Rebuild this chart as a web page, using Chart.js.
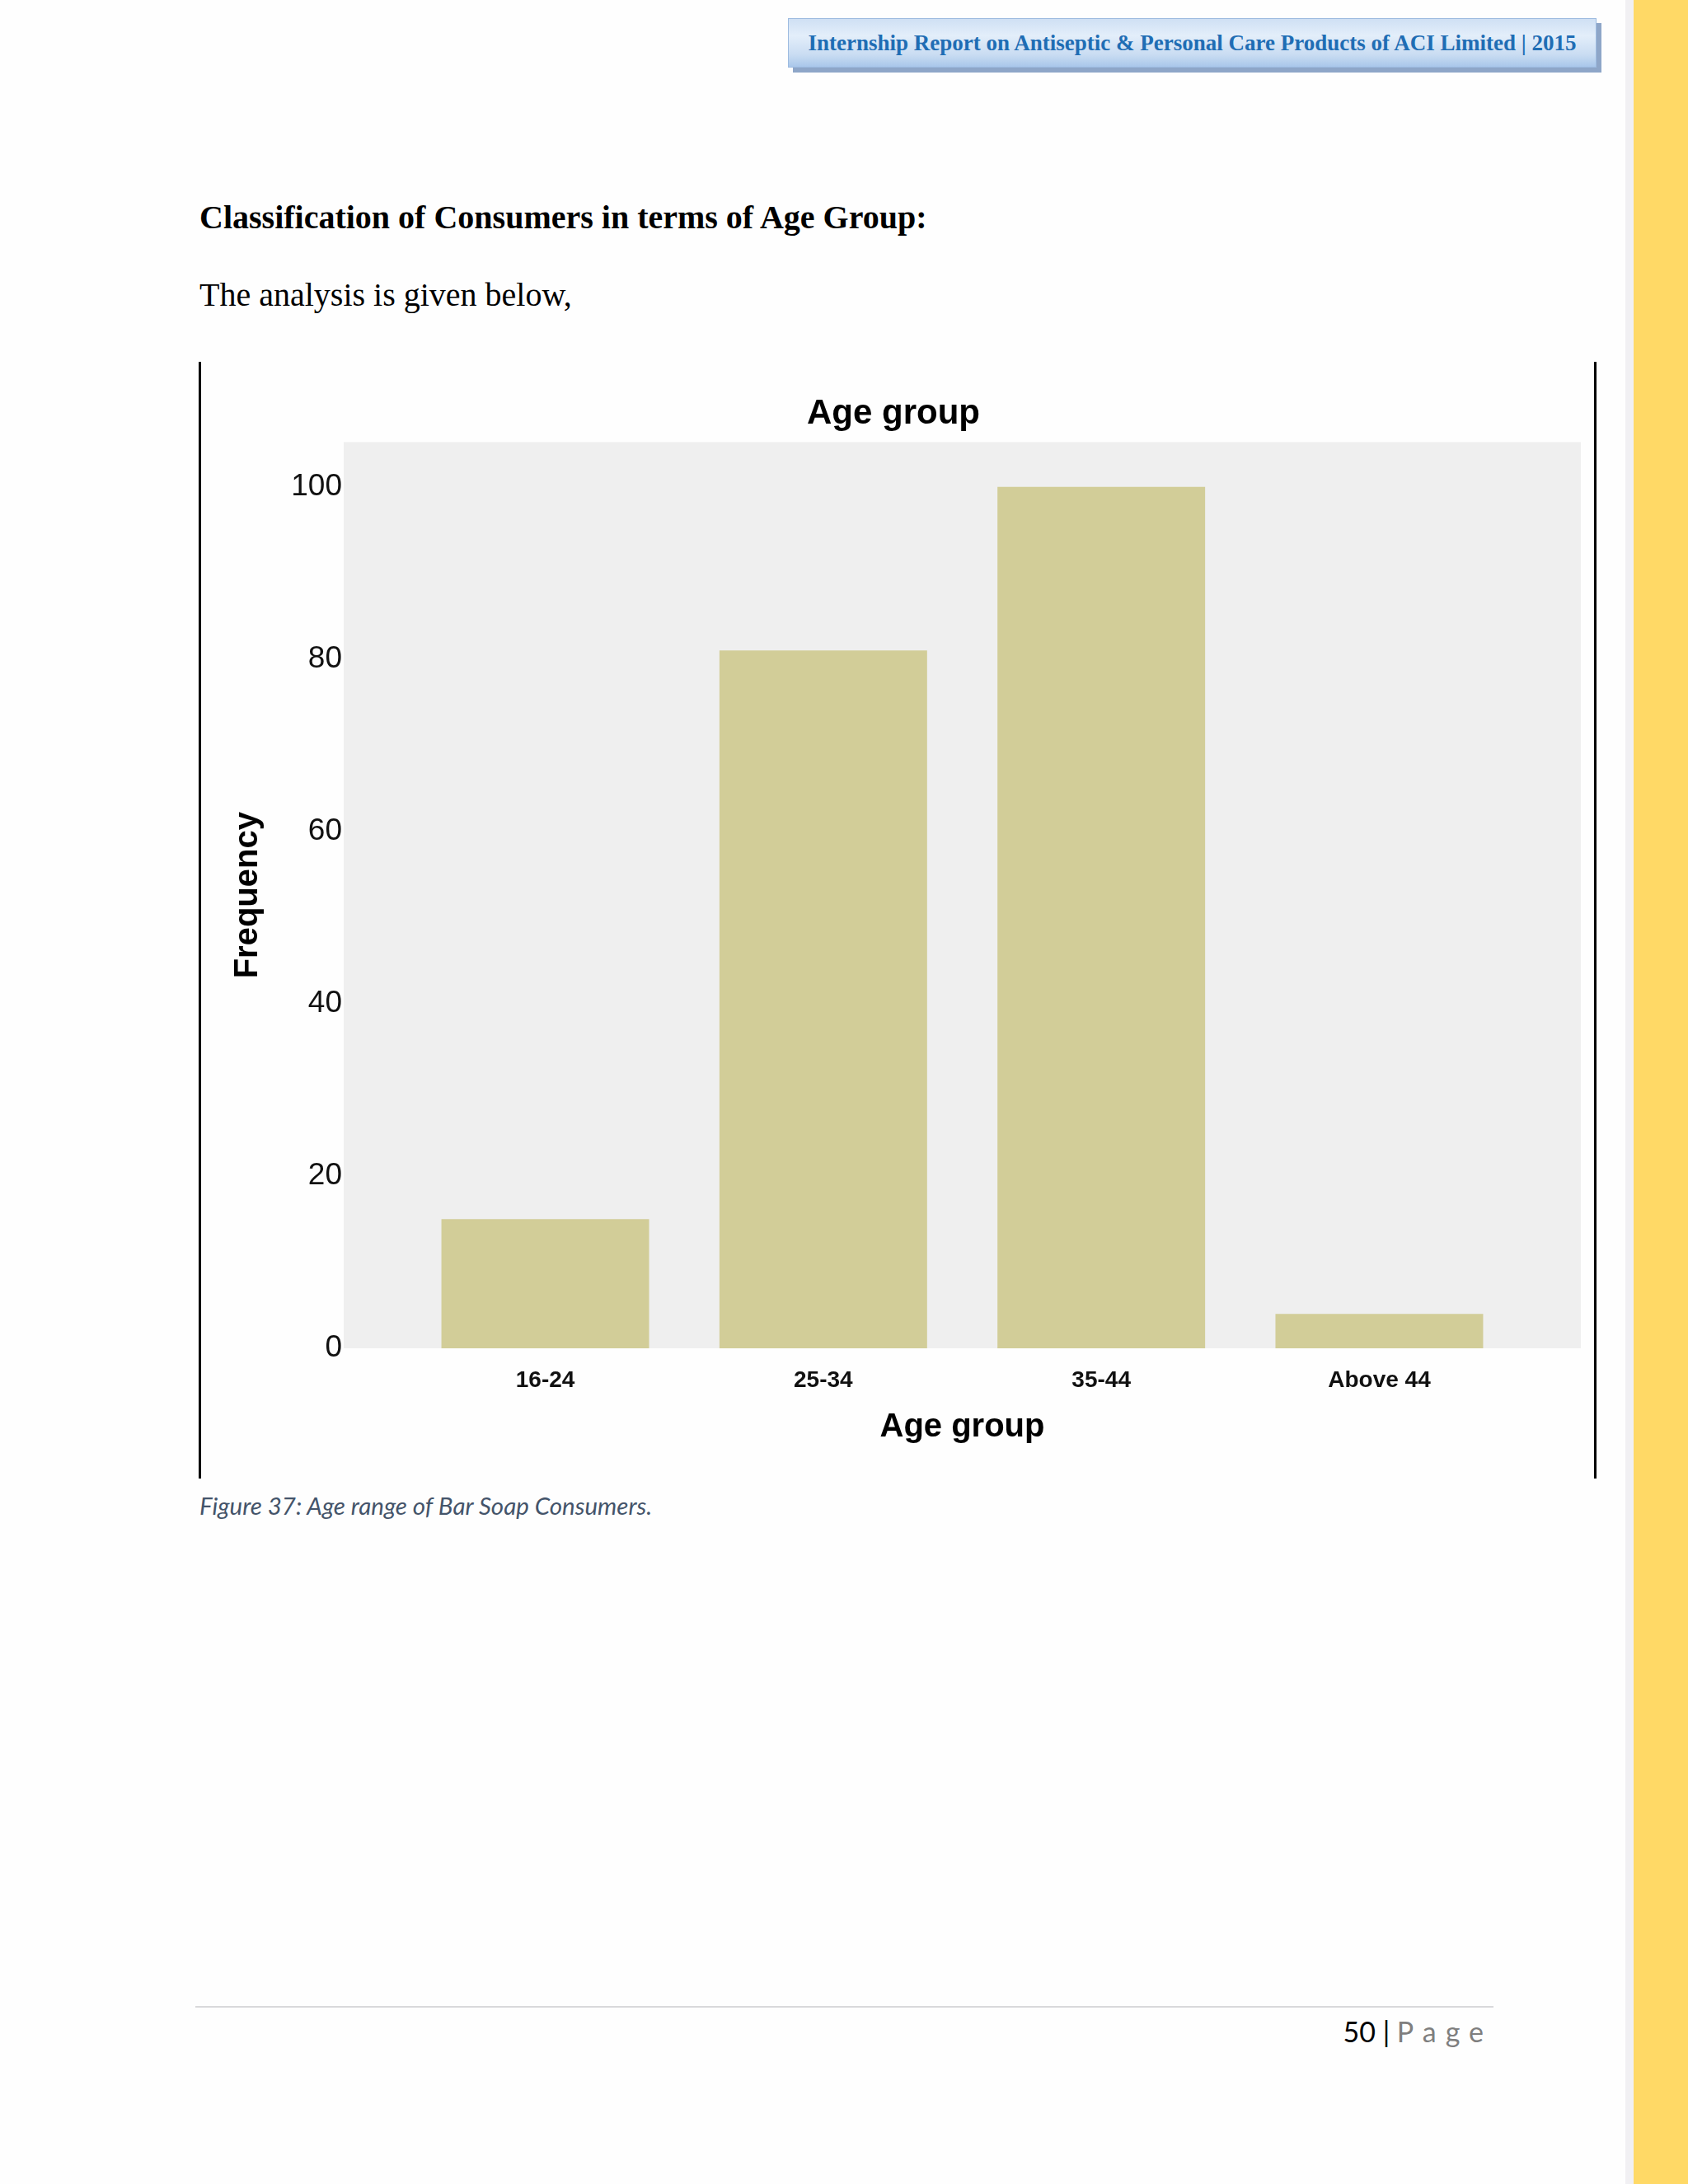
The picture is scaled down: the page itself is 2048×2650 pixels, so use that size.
<!DOCTYPE html>
<html>
<head>
<meta charset="utf-8">
<script src="https://cdn.jsdelivr.net/npm/chart.js@4.4.1/dist/chart.umd.min.js"></script>
<style>
  html, body { margin: 0; padding: 0; background: #fefefe; }
  #page { position: relative; width: 2048px; height: 2650px; overflow: hidden; background: #fefefe; }
  .abs { position: absolute; }
  #hdrShadow { left: 962px; top: 28px; width: 981px; height: 60px; background: #8ea6c8; }
  #hdr { left: 956px; top: 22px; width: 981px; height: 60px; box-sizing: border-box;
         border: 1px solid #9dbbe0;
         background: linear-gradient(180deg, #cfe0f4 0%, #e3eefa 35%, #c9dcf2 75%, #a9c7ea 100%); }
  #hdrText { left: 956px; top: 22px; width: 981px; height: 60px; line-height: 60px; text-align: center;
             font-family: "Liberation Serif", "Times New Roman", serif; font-weight: bold; font-size: 27px;
             color: #1f6db4; white-space: nowrap; }
  #hdrText span { display: inline-block; transform: scaleX(1.0); transform-origin: center; }
  #grayStrip { left: 1972px; top: 0; width: 10px; height: 2650px; background: #f1f0f3; }
  #yellow { left: 1982px; top: 0; width: 66px; height: 2650px; background: #ffd966; }
  #heading { left: 242px; top: 240px; font-family: "Liberation Serif", "Times New Roman", serif; font-weight: bold;
             font-size: 40px; color: #000; white-space: nowrap; }
  #intro { left: 242px; top: 334px; font-family: "Liberation Serif", "Times New Roman", serif;
           font-size: 40px; color: #000; white-space: nowrap; }
  .vline { top: 439px; width: 3px; height: 1355px; background: #000; }
  #chartBox { left: 250px; top: 460px; width: 1676px; height: 1320px; }
  #caption { left: 242px; top: 1809px; font-family: Lato, "Open Sans", sans-serif; font-style: italic;
             font-size: 29.5px; color: #44546a; white-space: nowrap; }
  #footLine { left: 237px; top: 2434px; width: 1575px; height: 2px; background: #d9d9db; }
  #footText { right: 248px; top: 2444px; font-family: Lato, "Open Sans", sans-serif; font-size: 34px;
              color: #000; white-space: nowrap; }
  #footText .pg { color: #7f7f7f; letter-spacing: 11px; margin-right: -11px; }
</style>
</head>
<body>
<div id="page">
  <div id="hdrShadow" class="abs"></div>
  <div id="hdr" class="abs"></div>
  <div id="hdrText" class="abs"><span>Internship Report on Antiseptic &amp; Personal Care Products of ACI Limited | 2015</span></div>
  <div id="grayStrip" class="abs"></div>
  <div id="yellow" class="abs"></div>

  <div id="heading" class="abs">Classification of Consumers in terms of Age Group:</div>
  <div id="intro" class="abs">The analysis is given below,</div>

  <div class="abs vline" style="left:241px"></div>
  <div class="abs vline" style="left:1934px"></div>

  <div id="chartBox" class="abs"><canvas id="c"></canvas></div>

  <div id="caption" class="abs">Figure 37: Age range of Bar Soap Consumers.</div>

  <div id="footLine" class="abs"></div>
  <div id="footText" class="abs">50 | <span class="pg">Page</span></div>
</div>

<script>
// ---- data ----
const categories = ['16-24', '25-34', '35-44', 'Above 44'];
const frequencies = [15, 81, 100, 4];
const chartTitle = 'Age group';
const xAxisTitle = 'Age group';
const yAxisTitle = 'Frequency';

const plotBg = {
  id: 'plotBg',
  beforeDraw(chart) {
    const { ctx, chartArea: a } = chart;
    ctx.save();
    ctx.fillStyle = '#efefef';
    ctx.fillRect(a.left, a.top, a.right - a.left, a.bottom - a.top);
    ctx.restore();
  }
};

const FONT = '"Liberation Sans", Arial, sans-serif';

new Chart(document.getElementById('c'), {
  type: 'bar',
  data: {
    datasets: [{
      data: frequencies.map((v, i) => ({ x: i, y: v })),
      backgroundColor: '#d2cd98',
      borderWidth: 0,
      barPercentage: 0.747,
      categoryPercentage: 1.0
    }]
  },
  options: {
    responsive: true,
    maintainAspectRatio: false,
    devicePixelRatio: 1,
    animation: false,
    layout: { padding: { left: 0, right: 8, top: 0, bottom: 0 } },
    plugins: {
      legend: { display: false },
      tooltip: { enabled: false },
      title: {
        display: true,
        text: chartTitle,
        color: '#000',
        font: { family: FONT, size: 42, weight: 'bold' },
        padding: { top: 17, bottom: 9 }
      }
    },
    scales: {
      x: {
        type: 'linear',
        offset: false,
        min: -0.725,
        max: categories.length - 1 + 0.725,
        grid: { display: false, drawTicks: false },
        border: { display: false },
        afterBuildTicks: (axis) => { axis.ticks = categories.map((c, i) => ({ value: i })); },
        afterFit: (axis) => { axis.height = 144; },
        ticks: {
          autoSkip: false,
          maxRotation: 0,
          padding: 22,
          color: '#111',
          font: { family: FONT, size: 28, weight: 'bold' },
          callback: (v) => categories[v] ?? ''
        },
        title: {
          display: true,
          text: xAxisTitle,
          color: '#000',
          font: { family: FONT, size: 40, weight: 'bold' },
          padding: { top: 0, bottom: 24 }
        }
      },
      y: {
        min: 0,
        max: 105.2,
        grid: { display: false, drawTicks: false },
        border: { display: false },
        afterFit: (axis) => { axis.width = 167; },
        ticks: {
          stepSize: 20,
          includeBounds: false,
          padding: 2,
          color: '#111',
          font: { family: FONT, size: 37 }
        },
        title: {
          display: true,
          text: yAxisTitle,
          color: '#000',
          font: { family: FONT, size: 40, weight: 'bold' },
          padding: { top: 27, bottom: 0 }
        }
      }
    }
  },
  plugins: [plotBg]
});
</script>
</body>
</html>
